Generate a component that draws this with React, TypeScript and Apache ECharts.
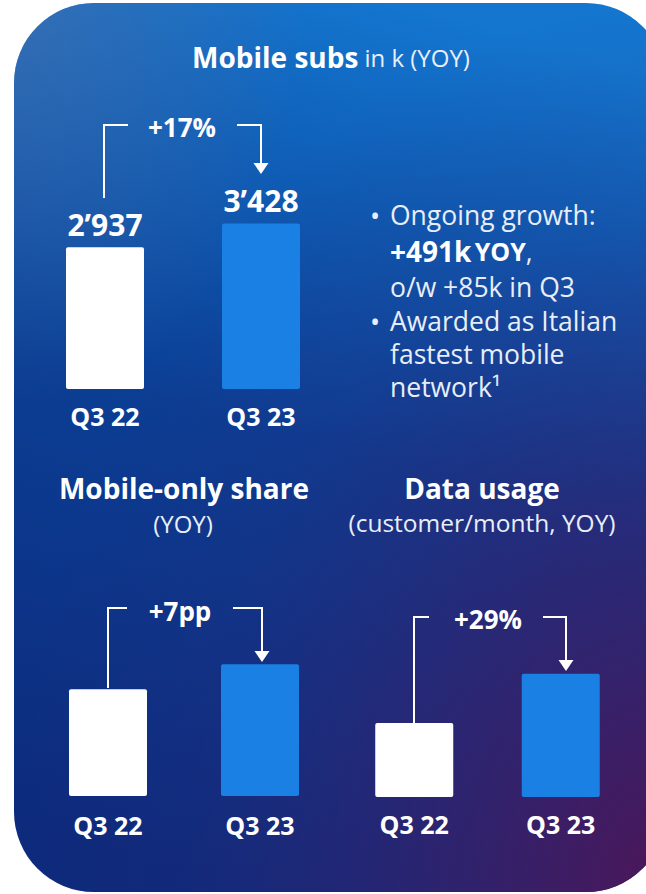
import React, { useEffect, useRef } from 'react';
import * as echarts from 'echarts';

// ---- data ----
const subsCategories = ['Q3 22', 'Q3 23'];
const subsValues = [2937, 3428]; // mobile subs, in k
const shareCategories = ['Q3 22', 'Q3 23'];
const shareValues = [30, 37]; // mobile-only share, % (estimated, +7pp)
const usageCategories = ['Q3 22', 'Q3 23'];
const usageValues = [21, 27]; // data usage per customer/month (estimated, +29%)
const growthLabels = ['+17%', '+7pp', '+29%'];
const titleMain = 'Mobile subs';
const titleSub = 'in k (YOY)';
const shareTitle = 'Mobile-only share';
const shareSub = '(YOY)';
const usageTitle = 'Data usage';
const usageSub = '(customer/month, YOY)';
const bulletLines = [
  '{t|Ongoing growth:}',
  '{a|+491k} {b|YOY}{t|,}',
  '{t|o/w +85k in Q3}',
  '{t|Awarded as Italian}',
  '{t|fastest mobile}',
  '{t|network¹}',
];
const bulletStarts = [true, false, false, true, false, false];

const FONT = '"Open Sans", "Noto Sans", sans-serif';
const barColors = ['#ffffff', '#1a80e3'];

const fmtThousands = (v: number) => String(v).replace(/\B(?=(\d{3})+(?!\d))/g, '’');

export default function App() {
  const ref = useRef<HTMLDivElement>(null);

  useEffect(() => {
    document.body.style.margin = '0';
    const chart = echarts.init(ref.current!, null, { renderer: 'svg', width: 646, height: 894 });

    const catAxis = (idx: number, data: string[], margin: number) => ({
      type: 'category',
      gridIndex: idx,
      data,
      axisLine: { show: false },
      axisTick: { show: false },
      axisLabel: {
        color: '#ffffff',
        fontFamily: FONT,
        fontWeight: 'bold',
        fontSize: 25,
        margin,
      },
    });
    const valAxis = (idx: number, min: number, max: number) => ({
      type: 'value',
      gridIndex: idx,
      min,
      max,
      show: false,
      splitLine: { show: false },
    });
    const barData = (vals: number[]) =>
      vals.map((v, i) => ({ value: v, itemStyle: { color: barColors[i], borderRadius: 2 } }));

    const white = '#ffffff';
    const soft = '#e8eef9';
    const lineStyle = { stroke: white, lineWidth: 2, fill: null };

    const bracket = (
      text: string,
      tx: number,
      ty: number,
      lx: number,
      lBottom: number,
      lEnd: number,
      rStart: number,
      rx: number,
      by: number,
      tip: number
    ) => [
      {
        type: 'text',
        style: {
          text,
          x: tx,
          y: ty,
          fill: white,
          font: `bold 26px ${FONT}`,
          textAlign: 'center',
          textVerticalAlign: 'middle',
        },
      },
      { type: 'polyline', shape: { points: [[lx, lBottom], [lx, by], [lEnd, by]] }, style: lineStyle },
      { type: 'polyline', shape: { points: [[rStart, by], [rx, by], [rx, tip - 10]] }, style: lineStyle },
      {
        type: 'polygon',
        shape: { points: [[rx - 7.5, tip - 11], [rx + 7.5, tip - 11], [rx, tip]] },
        style: { fill: white },
      },
    ];

    const bg = { x: 14, y: 3, width: 652, height: 889, r: 80 };

    const graphic: any[] = [
      {
        type: 'rect',
        z: 0,
        shape: bg,
        style: {
          fill: new echarts.graphic.LinearGradient(0.6, 0, 0.4, 1, [
            { offset: 0, color: '#1476cf' },
            { offset: 0.2, color: '#0f5fb8' },
            { offset: 0.5, color: '#0b3e94' },
            { offset: 1, color: '#0d2a7c' },
          ]),
        },
      },
      {
        type: 'rect',
        z: 0,
        shape: bg,
        style: {
          fill: new echarts.graphic.RadialGradient(1, 1, 1.0, [
            { offset: 0, color: 'rgba(78,22,88,1)' },
            { offset: 0.35, color: 'rgba(55,32,105,0.75)' },
            { offset: 0.75, color: 'rgba(40,40,120,0.2)' },
            { offset: 1, color: 'rgba(40,40,120,0)' },
          ]),
        },
      },
      {
        type: 'rect',
        z: 0,
        shape: bg,
        style: {
          fill: new echarts.graphic.RadialGradient(0, 0, 0.45, [
            { offset: 0, color: 'rgba(80,115,170,0.55)' },
            { offset: 1, color: 'rgba(80,115,170,0)' },
          ]),
        },
      },
      // main title
      {
        type: 'text',
        style: {
          text: `{b|${titleMain}}{s| }{r|${titleSub}}`,
          x: 331,
          y: 57,
          textAlign: 'center',
          textVerticalAlign: 'middle',
          rich: {
            b: { fill: white, font: `bold 28px ${FONT}` },
            s: { fill: white, font: `20px ${FONT}`, width: 6 },
            r: { fill: soft, font: `24px ${FONT}` },
          },
        },
      },
      {
        type: 'text',
        style: { text: shareTitle, x: 184, y: 488, fill: white, font: `bold 28px ${FONT}`, textAlign: 'center', textVerticalAlign: 'middle' },
      },
      {
        type: 'text',
        style: { text: shareSub, x: 183, y: 523, fill: soft, font: `24px ${FONT}`, textAlign: 'center', textVerticalAlign: 'middle' },
      },
      {
        type: 'text',
        style: { text: usageTitle, x: 482, y: 488, fill: white, font: `bold 28px ${FONT}`, textAlign: 'center', textVerticalAlign: 'middle' },
      },
      {
        type: 'text',
        style: { text: usageSub, x: 482, y: 522, fill: soft, font: `24.5px ${FONT}`, textAlign: 'center', textVerticalAlign: 'middle' },
      },
      ...bracket(growthLabels[0], 182, 127, 104, 198, 128, 237, 261, 125, 174),
      ...bracket(growthLabels[1], 180, 611, 108, 688, 127, 233, 262, 608, 662),
      ...bracket(growthLabels[2], 488, 619, 414, 724, 429, 543, 566, 617, 671),
    ];

    const lineYs = [215, 251, 287, 321, 354, 387];
    bulletLines.forEach((t, i) => {
      if (bulletStarts[i]) {
        graphic.push({
          type: 'text',
          style: { text: '•', x: 375, y: lineYs[i], fill: soft, font: `27px ${FONT}`, textAlign: 'center', textVerticalAlign: 'middle' },
        });
      }
      graphic.push({
        type: 'text',
        style: {
          text: t,
          x: 390,
          y: lineYs[i],
          textAlign: 'left',
          textVerticalAlign: 'middle',
          rich: {
            t: { fill: soft, font: `26.5px ${FONT}` },
            a: { fill: white, font: `bold 28px ${FONT}` },
            b: { fill: white, font: `bold 25px ${FONT}` },
          },
        },
      });
    });

    chart.setOption({
      animation: false,
      backgroundColor: '#ffffff',
      grid: [
        { left: 27, width: 312, top: 196, height: 193 },
        { left: 32, width: 304, top: 618, height: 178 },
        { left: 341, width: 293, top: 649, height: 148 },
      ],
      xAxis: [
        catAxis(0, subsCategories, 14),
        catAxis(1, shareCategories, 16),
        catAxis(2, usageCategories, 14),
      ],
      yAxis: [valAxis(0, 0, 4000), valAxis(1, 0, 50), valAxis(2, 12, 30)],
      series: [
        {
          type: 'bar',
          xAxisIndex: 0,
          yAxisIndex: 0,
          barWidth: 78,
          data: barData(subsValues),
          label: {
            show: true,
            position: 'top',
            distance: 8,
            color: white,
            fontFamily: FONT,
            fontWeight: 'bold',
            fontSize: 30,
            formatter: (p: any) => fmtThousands(p.value),
          },
        },
        { type: 'bar', xAxisIndex: 1, yAxisIndex: 1, barWidth: 78, data: barData(shareValues) },
        { type: 'bar', xAxisIndex: 2, yAxisIndex: 2, barWidth: 78, data: barData(usageValues) },
      ],
      graphic,
    });

    return () => chart.dispose();
  }, []);

  return <div ref={ref} style={{ position: 'absolute', left: 0, top: 0, width: 646, height: 894 }} />;
}
